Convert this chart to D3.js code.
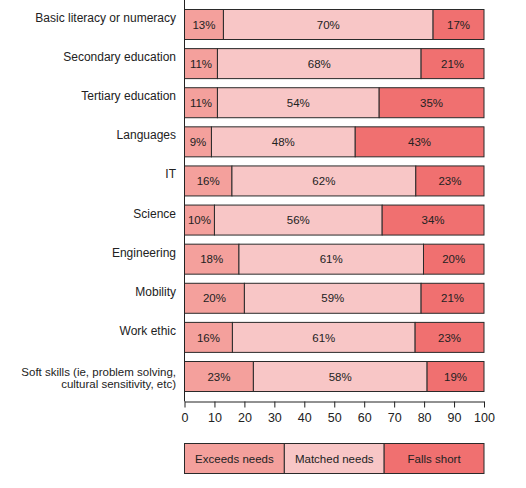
<!DOCTYPE html>
<html><head><meta charset="utf-8">
<script src="https://cdn.jsdelivr.net/npm/d3@7"></script>
<style>body{margin:0;background:#fff}svg{display:block}text{font-family:"Liberation Sans",Arial,sans-serif;fill:#222}</style>
</head><body>
<svg id="c" width="526" height="488"></svg>
<script>
const categories = ["Basic literacy or numeracy","Secondary education","Tertiary education","Languages","IT","Science","Engineering","Mobility","Work ethic","Soft skills (ie, problem solving,|cultural sensitivity, etc)"];
const exceeds = [13,11,11,9,16,10,18,20,16,23];
const matched = [70,68,54,48,62,56,61,59,61,58];
const fallsShort = [17,21,35,43,23,34,20,21,23,19];
const seriesNames = ["Exceeds needs","Matched needs","Falls short"];
const ticks = [0,10,20,30,40,50,60,70,80,90,100];
const colors = ["#f4a09c","#f8c6c6","#f07070"];

const svg = d3.select("#c");
const x = d3.scaleLinear().domain([0,100]).range([184.5,484]);
const y = d3.scaleBand().domain(categories).range([9.5,391.5]).paddingInner(0.233).paddingOuter(0.0);

const rows = categories.map((c,i)=>{
  const vals=[exceeds[i],matched[i],fallsShort[i]];
  const sum=d3.sum(vals);
  let acc=0;
  return vals.map((v,j)=>{const s={cat:c,v,j,x0:acc/sum*100,x1:(acc+v)/sum*100};acc+=v;return s;});
});

const g = svg.append("g");
rows.forEach(r=>{
  r.forEach(s=>{
    g.append("rect").attr("x",x(s.x0)).attr("y",y(s.cat)).attr("width",x(s.x1)-x(s.x0)).attr("height",y.bandwidth())
      .attr("fill",colors[s.j]).attr("stroke","#2a2a2a").attr("stroke-width",1);
    g.append("text").attr("x",(x(s.x0)+x(s.x1))/2).attr("y",y(s.cat)+y.bandwidth()/2).attr("dy","0.36em")
      .attr("text-anchor","middle").attr("font-size",11.5).text(s.v+"%");
  });
});

// category labels
categories.forEach(c=>{
  const lines=c.split("|");
  if(lines.length===1){
    svg.append("text").attr("text-anchor","end").attr("font-size",12).attr("x",176).attr("y",y(c)+12.5).text(lines[0]);
  } else {
    svg.append("text").attr("text-anchor","end").attr("font-size",11.5).attr("x",176).attr("y",y(c)+14.5).text(lines[0]);
    svg.append("text").attr("text-anchor","end").attr("font-size",11.5).attr("x",176).attr("y",y(c)+26).text(lines[1]);
  }
});

// axes
const ax = svg.append("g").attr("transform","translate(0,401.5)")
  .call(d3.axisBottom(x).tickValues(ticks).tickSize(6).tickSizeOuter(0).tickPadding(6));
ax.select(".domain").attr("stroke","#222");
ax.selectAll(".tick line").attr("stroke","#222");
ax.selectAll(".tick text").attr("font-size",12.5).attr("fill","#222").style("font-family","'Liberation Sans',Arial,sans-serif");
svg.append("line").attr("x1",184.5).attr("x2",184.5).attr("y1",0).attr("y2",401.5).attr("stroke","#222");

// legend
const lx = d3.scaleBand().domain(seriesNames).range([x(0),x(100)]);
const lg = svg.append("g");
seriesNames.forEach((n,i)=>{
  lg.append("rect").attr("x",lx(n)).attr("y",443.5).attr("width",lx.bandwidth()).attr("height",30)
    .attr("fill",colors[i]).attr("stroke","#2a2a2a");
  lg.append("text").attr("x",lx(n)+lx.bandwidth()/2).attr("y",458.5).attr("dy","0.36em").attr("text-anchor","middle").attr("font-size",11.5).text(n);
});
</script>
</body></html>
